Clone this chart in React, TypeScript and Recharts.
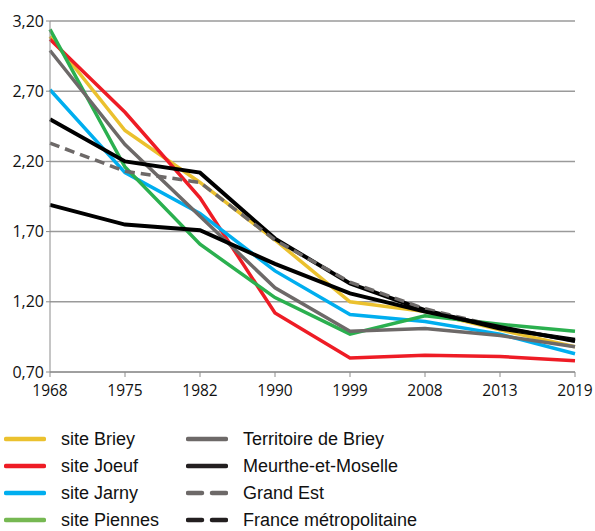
import React from 'react';
import { LineChart, Line, XAxis, YAxis, CartesianGrid } from 'recharts';

const years = ['1968', '1975', '1982', '1990', '1999', '2008', '2013', '2019'];

const siteBriey = [3.09, 2.42, 2.05, 1.64, 1.2, 1.13, 1.0, 0.88];
const siteJoeuf = [3.07, 2.55, 1.94, 1.12, 0.8, 0.82, 0.81, 0.78];
const siteJarny = [2.71, 2.12, 1.83, 1.42, 1.11, 1.06, 0.97, 0.83];
const sitePiennes = [3.14, 2.16, 1.61, 1.23, 0.97, 1.1, 1.04, 0.99];
const territoireBriey = [2.99, 2.32, 1.81, 1.3, 0.99, 1.01, 0.96, 0.88];
const meurtheMoselle = [2.5, 2.2, 2.12, 1.65, 1.33, 1.14, 1.01, 0.93];
const grandEst = [2.33, 2.13, 2.05, 1.64, 1.34, 1.15, 1.02, 0.92];
const franceMetro = [1.89, 1.75, 1.71, 1.47, 1.26, 1.13, 1.02, 0.92];

const yTicks = [0.7, 1.2, 1.7, 2.2, 2.7, 3.2];

const series = [
  { key: 'briey', name: 'site Briey', values: siteBriey, color: '#EBC12E', width: 3.5 },
  { key: 'joeuf', name: 'site Joeuf', values: siteJoeuf, color: '#EE1C25', width: 3.5 },
  { key: 'jarny', name: 'site Jarny', values: siteJarny, color: '#00AEEF', width: 3.5 },
  { key: 'piennes', name: 'site Piennes', values: sitePiennes, color: '#2BB04F', width: 3.5 },
  { key: 'territoire', name: 'Territoire de Briey', values: territoireBriey, color: '#6D6968', width: 3.5 },
  { key: 'mm', name: 'Meurthe-et-Moselle', values: meurtheMoselle, color: '#000000', width: 4 },
  { key: 'ge', name: 'Grand Est', values: grandEst, color: '#6D6968', width: 3.5, dash: '10 6' },
  { key: 'fr', name: 'France métropolitaine', values: franceMetro, color: '#000000', width: 4 },
];

const legendItems = [
  { name: 'site Briey', color: '#EBC12E' },
  { name: 'site Joeuf', color: '#EE1C25' },
  { name: 'site Jarny', color: '#00AEEF' },
  { name: 'site Piennes', color: '#76B852' },
  { name: 'Territoire de Briey', color: '#6D6968' },
  { name: 'Meurthe-et-Moselle', color: '#231F20' },
  { name: 'Grand Est', color: '#6D6968', dashed: true },
  { name: 'France métropolitaine', color: '#231F20', dashed: true },
];

const data = years.map((year, i) => {
  const row: Record<string, string | number> = { year };
  series.forEach((s) => {
    row[s.key] = s.values[i];
  });
  return row;
});

const fmt = (v: number) => v.toFixed(2).replace('.', ',');

export default function App() {
  return (
    <div style={{ position: 'absolute', left: 0, top: 0, width: 595, height: 531, background: '#fff' }}>
      <LineChart
        width={595}
        height={531}
        data={data}
        margin={{ top: 21, right: 20, left: 0, bottom: 130 }}
      >
        <CartesianGrid vertical={false} stroke="#9a9a9a" strokeWidth={1.5} />
        <XAxis
          dataKey="year"
          stroke="#8c8c8c"
          tickSize={5}
          tick={{ fill: '#111', fontSize: 15.5, fontFamily: 'Open Sans' }}
          tickMargin={8}
          interval={0}
          height={29}
        />
        <YAxis
          domain={[0.7, 3.2]}
          ticks={yTicks}
          tickFormatter={fmt}
          width={50}
          stroke="#8c8c8c"
          tickSize={4}
          tickMargin={2}
          tick={{ fill: '#111', fontSize: 16, fontFamily: 'Open Sans' }}
          allowDataOverflow
        />
        {series.map((s) => (
          <Line
            key={s.key}
            dataKey={s.key}
            name={s.name}
            type="linear"
            stroke={s.color}
            strokeWidth={s.width}
            strokeDasharray={s.dash}
            dot={false}
            isAnimationActive={false}
          />
        ))}
      </LineChart>
      {legendItems.map((item, i) => {
        const col = i < 4 ? 0 : 1;
        const row = i % 4;
        const x = col === 0 ? 4 : 186;
        const y = 439 + row * 27;
        return (
          <div
            key={item.name}
            style={{
              position: 'absolute',
              left: x,
              top: y - 12,
              height: 24,
              display: 'flex',
              alignItems: 'center',
              fontFamily: 'Liberation Sans, Arial, sans-serif',
              fontSize: 18,
              color: '#111',
              whiteSpace: 'nowrap',
            }}
          >
            <svg width={42} height={6} style={{ marginRight: 15 }}>
              <line
                x1={2}
                y1={3}
                x2={40}
                y2={3}
                stroke={item.color}
                strokeWidth={4.5}
                strokeLinecap="round"
                strokeDasharray={item.dashed ? '14 10' : undefined}
              />
            </svg>
            {item.name}
          </div>
        );
      })}
    </div>
  );
}
